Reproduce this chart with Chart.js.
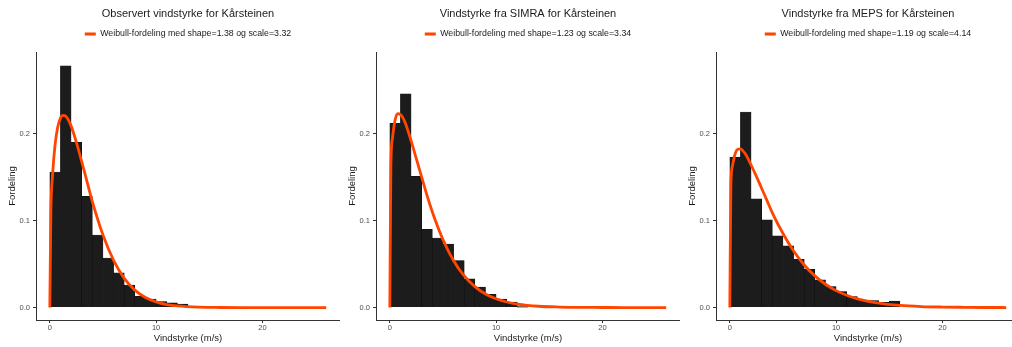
<!DOCTYPE html>
<html>
<head>
<meta charset="utf-8">
<script src="https://cdn.jsdelivr.net/npm/chart.js@4.4.1/dist/chart.umd.min.js"></script>
<style>
    html, body { margin: 0; padding: 0; background: #fff; }
    body { width: 1012px; height: 347px; overflow: hidden; position: relative; }
    .panel { position: absolute; top: 0; width: 340px; height: 347px; }
</style>
</head>
<body>
<div class="panel" style="left:0px"><canvas id="obsChart" width="340" height="347"></canvas></div>
<div class="panel" style="left:340px"><canvas id="simraChart" width="340" height="347"></canvas></div>
<div class="panel" style="left:680px"><canvas id="mepsChart" width="340" height="347"></canvas></div>
<script>
// Histogram bins (width 1 m/s), bin midpoints
const binMids = [0.5, 1.5, 2.5, 3.5, 4.5, 5.5, 6.5, 7.5, 8.5, 9.5, 10.5, 11.5, 12.5, 13.5, 14.5, 15.5];

// Histogram heights
const obsHist = [0.156, 0.278, 0.190, 0.128, 0.0835, 0.057, 0.040, 0.026, 0.013, 0.0097, 0.007, 0.0055, 0.004, 0.0015];
const simraHist = [0.212, 0.246, 0.151, 0.090, 0.080, 0.073, 0.054, 0.033, 0.0235, 0.0153, 0.0097, 0.0062, 0.001];
const mepsHist = [0.173, 0.225, 0.125, 0.101, 0.0825, 0.071, 0.0555, 0.0441, 0.0318, 0.0241, 0.0184, 0.0126, 0.0085, 0.0079, 0.006, 0.0075];

// Weibull curves, sampled points
const curveX = [0, 0.1, 0.25, 0.5, 0.75, 1, 1.25, 1.5, 2, 2.5, 3, 3.5, 4, 5, 6, 7, 8, 9, 10, 11, 12, 14, 16, 18, 20, 22, 24, 26];
const obsCurve = [0, 0.109, 0.151, 0.188, 0.208, 0.218, 0.221, 0.220, 0.209, 0.190, 0.168, 0.145, 0.122, 0.0836, 0.0542, 0.0336, 0.0201, 0.0116, 0.0065, 0.0035, 0.0019, 0.0005, 0.0001, 0, 0, 0, 0, 0];
const simraCurve = [0, 0.162, 0.195, 0.216, 0.223, 0.222, 0.218, 0.211, 0.192, 0.171, 0.150, 0.129, 0.110, 0.0782, 0.0539, 0.0364, 0.0241, 0.0157, 0.0101, 0.0064, 0.0040, 0.0015, 0.0006, 0.0002, 0.0001, 0, 0, 0];
const mepsCurve = [0, 0.140, 0.163, 0.177, 0.182, 0.1825, 0.180, 0.176, 0.164, 0.151, 0.137, 0.123, 0.109, 0.0852, 0.0651, 0.049, 0.0365, 0.0268, 0.0195, 0.0141, 0.0101, 0.0051, 0.0025, 0.0012, 0.0006, 0.0003, 0.0001, 0.00005];

// Axis ticks
const xTicks = [0, 10, 20];
const yTicks = [0.0, 0.1, 0.2];

const colors = {
    bar: '#1c1c1c',
    barEdge: '#0d0d0d',
    curve: '#ff4500',
    axis: '#333333',
    tickText: '#4d4d4d',
    text: '#1a1a1a'
};

Chart.defaults.font.family = "'Liberation Sans', Arial, Helvetica, sans-serif";
Chart.defaults.animation = false;

function makeChart(id, title, label, hist, curve) {
    const ctx = document.getElementById(id).getContext('2d');
    new Chart(ctx, {
        type: 'bar',
        data: {
            datasets: [
                {
                    type: 'line',
                    label: label,
                    data: curveX.map((x, i) => ({ x: x, y: curve[i] })),
                    borderColor: colors.curve,
                    backgroundColor: colors.curve,
                    borderWidth: 2.8,
                    pointRadius: 0,
                    cubicInterpolationMode: 'monotone',
                    order: 0
                },
                {
                    type: 'bar',
                    label: 'hist',
                    data: hist.map((v, i) => ({ x: binMids[i], y: v })),
                    backgroundColor: colors.bar,
                    borderColor: colors.barEdge,
                    borderWidth: 0.5,
                    barPercentage: 1,
                    categoryPercentage: 1,
                    order: 1
                }
            ]
        },
        options: {
            responsive: false,
            layout: { padding: 0 },
            plugins: {
                tooltip: { enabled: false },
                title: {
                    display: true,
                    text: title,
                    fullSize: false,
                    color: colors.text,
                    font: { size: 11, weight: 'normal' },
                    padding: { top: 7, bottom: 4.4 }
                },
                legend: {
                    display: true,
                    fullSize: false,
                    weight: 1800,
                    labels: {
                        filter: item => item.text !== 'hist',
                        usePointStyle: true,
                        pointStyle: 'line',
                        pointStyleWidth: 11,
                        color: colors.text,
                        font: { size: 8.8 },
                        padding: 5
                    }
                },
                subtitle: {
                    // spacer between legend and panel
                    display: true,
                    text: '',
                    fullSize: false,
                    font: { size: 3, lineHeight: 1 },
                    padding: { top: 0.6, bottom: 0 }
                }
            },
            scales: {
                x: {
                    type: 'linear',
                    min: -1.3,
                    max: 27.3,
                    offset: false,
                    afterBuildTicks: axis => { axis.ticks = xTicks.map(v => ({ value: v })); },
                    afterFit: axis => { axis.height = 27; },
                    grid: { display: true, offset: false, drawOnChartArea: false, drawTicks: true, tickLength: 3, tickColor: colors.axis, tickWidth: 1 },
                    border: { display: true, color: colors.axis, width: 1 },
                    ticks: { color: colors.tickText, font: { size: 7.5 }, padding: 0, maxRotation: 0 },
                    title: { display: true, text: 'Vindstyrke (m/s)', color: colors.text, font: { size: 9.5 }, padding: { top: 0, bottom: 3 } }
                },
                y: {
                    type: 'linear',
                    min: -0.0143,
                    max: 0.294,
                    afterBuildTicks: axis => { axis.ticks = yTicks.map(v => ({ value: v })); },
                    afterFit: axis => { axis.width = 36; },
                    grid: { display: true, drawOnChartArea: false, drawTicks: true, tickLength: 3, tickColor: colors.axis, tickWidth: 1 },
                    border: { display: true, color: colors.axis, width: 1 },
                    ticks: { color: colors.tickText, font: { size: 7.5 }, padding: 3, callback: v => v.toFixed(1) },
                    title: { display: true, text: 'Fordeling', color: colors.text, font: { size: 9.5 }, padding: { top: 7, bottom: 0 } }
                }
            }
        }
    });
}

makeChart('obsChart', 'Observert vindstyrke for Kårsteinen', 'Weibull-fordeling med shape=1.38 og scale=3.32', obsHist, obsCurve);
makeChart('simraChart', 'Vindstyrke fra SIMRA for Kårsteinen', 'Weibull-fordeling med shape=1.23 og scale=3.34', simraHist, simraCurve);
makeChart('mepsChart', 'Vindstyrke fra MEPS for Kårsteinen', 'Weibull-fordeling med shape=1.19 og scale=4.14', mepsHist, mepsCurve);
</script>
</body>
</html>
